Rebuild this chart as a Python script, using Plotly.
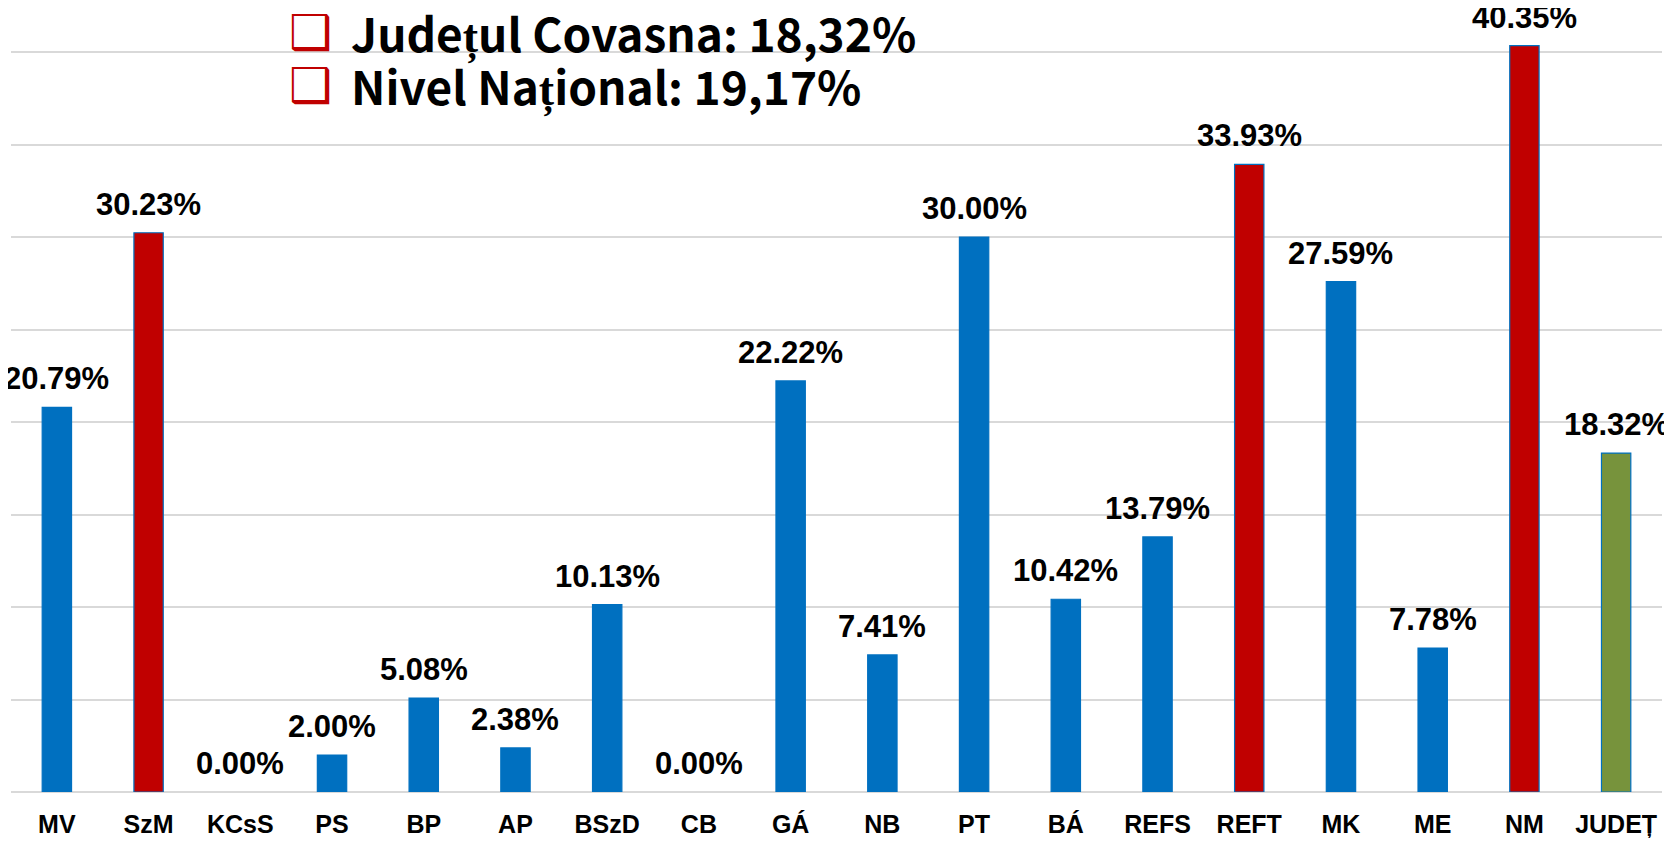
import plotly.graph_objects as go

categories = ["MV", "SzM", "KCsS", "PS", "BP", "AP", "BSzD", "CB", "GÁ", "NB",
              "PT", "BÁ", "REFS", "REFT", "MK", "ME", "NM", "JUDEȚ"]
values = [20.79, 30.23, 0.00, 2.00, 5.08, 2.38, 10.13, 0.00, 22.22, 7.41,
          30.00, 10.42, 13.79, 33.93, 27.59, 7.78, 40.35, 18.32]
highlight_red = ["SzM", "REFT", "NM"]
county_cat = "JUDEȚ"
legend_lines = ["Județul Covasna: 18,32%", "Nivel Național: 19,17%"]

BLUE = "#0070C0"
RED = "#C00000"
GREEN = "#77933C"

colors = []
for c in categories:
    if c in highlight_red:
        colors.append(RED)
    elif c == county_cat:
        colors.append(GREEN)
    else:
        colors.append(BLUE)
line_widths = [0 if v == 0 else 1.2 for v in values]

# The page body has an 8px margin; the plot geometry compensates for it.
W, H = 1672, 843
ML, MR, MT, MB = 3, 18, 0, 59
PLOT_W = W - ML - MR
PLOT_H = H - MT - MB

fig = go.Figure()
fig.add_trace(go.Bar(
    x=categories, y=values,
    marker=dict(color=colors, line=dict(color=BLUE, width=line_widths)),
    width=0.32,
    hoverinfo="x+y",
))

for c, v in zip(categories, values):
    fig.add_annotation(
        x=c, y=v, xref="x", yref="y",
        text=f"{v:.2f}%", showarrow=False,
        yanchor="bottom", yshift=9,
        font=dict(family="Liberation Sans, Arial", size=31, color="black", weight="bold"),
    )

# legend-like texts (page pixel targets, converted to paper coords)
for i, line in enumerate(legend_lines):
    ypix_page = 32 + i * 53
    yp = 1 - (ypix_page - 8 - MT) / PLOT_H
    fig.add_annotation(
        x=(349 - 8 - ML) / PLOT_W, y=yp, xref="paper", yref="paper",
        xanchor="left", yanchor="middle", showarrow=False,
        text=line,
        font=dict(family="Noto Sans CJK KR", size=46, color="black", weight="bold"),
    )
    fig.add_annotation(
        x=(310 - 8 - ML) / PLOT_W, y=yp, xref="paper", yref="paper",
        xanchor="center", yanchor="middle", showarrow=False,
        text="<b>❑</b>",
        font=dict(family="DejaVu Sans", size=48, color=RED),
    )

fig.update_layout(
    width=W, height=H,
    margin=dict(l=ML, r=MR, t=MT, b=MB),
    plot_bgcolor="white", paper_bgcolor="white",
    showlegend=False,
)
fig.update_xaxes(
    showgrid=False, showline=False, ticks="",
    tickfont=dict(family="Liberation Sans, Arial", size=25, color="black", weight="bold"),
    ticklabelstandoff=15,
    range=[-0.5, len(categories) - 0.5],
)
fig.update_yaxes(
    range=[0, 42.38], dtick=5, showgrid=True, gridcolor="#D9D9D9", gridwidth=1.5,
    zeroline=True, zerolinecolor="#D9D9D9", zerolinewidth=2,
    showticklabels=False, showline=False,
)

fig.write_html("out.html")
